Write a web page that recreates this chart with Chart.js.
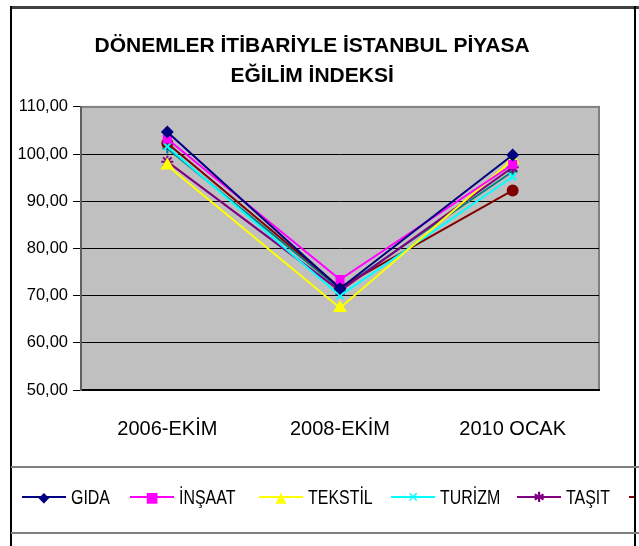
<!DOCTYPE html>
<html>
<head>
<meta charset="utf-8">
<script src="https://cdn.jsdelivr.net/npm/chart.js@4.4.1/dist/chart.umd.min.js"></script>
<style>
  html, body { margin: 0; padding: 0; background: #fff; }
  #wrap { position: relative; width: 639px; height: 546px; overflow: hidden; }
  #graf { position: absolute; left: 0; top: 0; }
  .frame { position: absolute; }
  #legenda {
    position: absolute; left: 0; top: 485px; width: 634px; height: 24px; overflow: hidden;
    font-family: "Liberation Sans", Arial, sans-serif;
    font-size: 21px; color: #000;
  }
  #legenda .item { position: absolute; top: 0; white-space: nowrap; }
  #legenda .linha { position: absolute; top: 11px; width: 44px; height: 2px; }
  #legenda .marca { position: absolute; left: 0; width: 44px; top: -9px; text-align: center; font-family: "DejaVu Sans", sans-serif; font-size: 14px; line-height: 20px; }
  #legenda .texto { position: absolute; left: 49px; top: 0; line-height: 24px; transform: scaleX(0.76); transform-origin: left center; }
</style>
</head>
<body>
<div id="wrap">
  <canvas id="graf" width="639" height="546"></canvas>
  <!-- moldura do gráfico -->
  <div class="frame" style="left:11px;top:6px;width:628px;height:3px;background:#404040"></div>
  <div class="frame" style="left:10px;top:6px;width:2px;height:540px;background:#000"></div>
  <div class="frame" style="left:634px;top:6px;width:2px;height:540px;background:#000"></div>
  <div class="frame" style="left:11px;top:466px;width:628px;height:2px;background:#808080"></div>
  <div class="frame" style="left:11px;top:532px;width:628px;height:2px;background:#808080"></div>
  <div id="legenda"></div>
</div>
<script>
/* índice de tendência do mercado de Istambul por período */
const periodos = ["2006-EKİM", "2008-EKİM", "2010 OCAK"];

const series = [
  { nome: "GIDA",    cor: "#000080", ponto: "rectRot",  raio: 5, marca: "◆", dados: [104.7, 71.5, 99.8] },
  { nome: "İNŞAAT",  cor: "#FF00FF", ponto: "rect",     raio: 5, marca: "■", dados: [103.2, 73.4, 97.8] },
  { nome: "TEKSTİL", cor: "#FFFF00", ponto: "triangle", raio: 6, marca: "▲", dados: [97.6, 67.4, 98.8] },
  { nome: "TURİZM",  cor: "#00FFFF", ponto: "crossRot", raio: 5, marca: "✕", dados: [101.6, 70.0, 95.2] },
  { nome: "TAŞIT",   cor: "#800080", ponto: "star",     raio: 6, marca: "✱", dados: [98.4, 71.0, 97.2] },
  { nome: "ENERJİ",  cor: "#800000", ponto: "circle",   raio: 5, marca: "●", dados: [102.3, 71.7, 92.3] },
  { nome: "DİĞER",   cor: "#008080", ponto: "cross",    raio: 5, marca: "+", dados: [101.2, 71.4, 96.3] },
];

// posição x de cada item da legenda
const posLegenda = [22, 130, 259, 391, 517, 629, 760];

// fundo cinza da área de plotagem
const fundoPlot = {
  id: "fundoPlot",
  beforeDraw(chart) {
    const { ctx, chartArea: a } = chart;
    ctx.save();
    ctx.fillStyle = "#C0C0C0";
    ctx.fillRect(a.left, a.top, a.right - a.left, a.bottom - a.top);
    ctx.strokeStyle = "#808080";
    ctx.lineWidth = 2;
    ctx.strokeRect(a.left, a.top, a.right - a.left, a.bottom - a.top);
    ctx.restore();
  },
};

// espaço à esquerda para deslocar o título (o original não fica centrado no canvas)
const recuo = "\u2003\u2009";

const ctx = document.getElementById("graf");
const grafico = new Chart(ctx, {
  type: "line",
  data: {
    labels: periodos,
    datasets: series.map((s) => ({
      label: s.nome,
      data: s.dados,
      borderColor: s.cor,
      backgroundColor: s.cor,
      borderWidth: 2,
      pointStyle: s.ponto,
      pointRadius: s.raio,
      pointBorderColor: s.cor,
      pointBackgroundColor: s.cor,
      pointBorderWidth: 2,
      tension: 0,
      fill: false,
    })),
  },
  options: {
    responsive: false,
    animation: false,
    layout: { padding: { left: 0, right: 40, top: 0, bottom: 96 } },
    plugins: {
      legend: { display: false },
      tooltip: { enabled: false },
      title: {
        display: true,
        text: [recuo + "DÖNEMLER İTİBARİYLE İSTANBUL PİYASA", recuo + "EĞİLİM İNDEKSİ"],
        color: "#000",
        font: { family: "'Liberation Sans', Arial, sans-serif", size: 21, weight: "bold", lineHeight: 1.45 },
        padding: { top: 31, bottom: 15 },
      },
    },
    scales: {
      x: {
        offset: true,
        grid: { display: false, drawTicks: false, offset: true },
        border: { color: "#000", width: 2 },
        ticks: {
          color: "#000",
          padding: 27,
          font: { family: "'Liberation Sans', Arial, sans-serif", size: 20 },
        },
        afterFit(scale) { scale.height = 60; },
      },
      y: {
        min: 50,
        max: 110,
        ticks: {
          stepSize: 10,
          color: "#000",
          padding: 5,
          font: { family: "'Liberation Sans', Arial, sans-serif", size: 16.5 },
          callback: (v) => v.toFixed(2).replace(".", ","),
        },
        grid: {
          color: (c) => (c.tick && (c.tick.value === 110 || c.tick.value === 50) ? "rgba(0,0,0,0)" : "#000"),
          tickColor: "#000",
          tickLength: 8,
          lineWidth: 1,
        },
        border: { color: "#606060", width: 2 },
        afterFit(scale) { scale.width = 81; },
      },
    },
  },
  plugins: [fundoPlot],
});

// legenda em html (cortada na borda direita como no original)
const legenda = document.getElementById("legenda");
series.forEach((s, i) => {
  const item = document.createElement("div");
  item.className = "item";
  item.style.left = posLegenda[i] + "px";
  item.innerHTML =
    '<span class="linha" style="background:' + s.cor + '"><span class="marca" style="color:' + s.cor + '">' +
    s.marca + '</span></span><span class="texto">' + s.nome + "</span>";
  legenda.appendChild(item);
});
</script>
</body>
</html>
